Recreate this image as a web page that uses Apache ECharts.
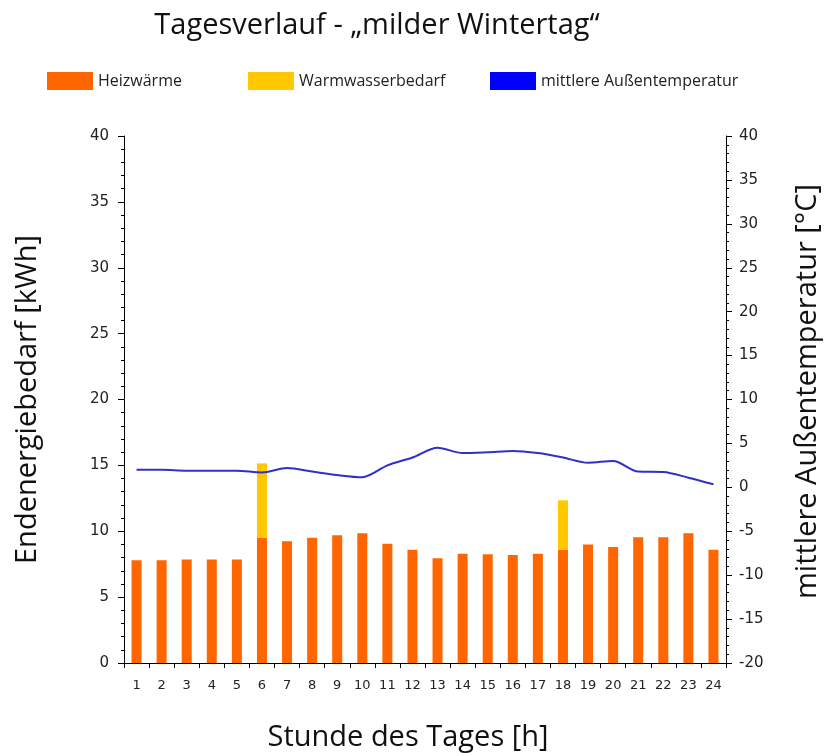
<!DOCTYPE html>
<html>
<head>
<meta charset="utf-8">
<script src="https://cdn.jsdelivr.net/npm/echarts@6/dist/echarts.min.js"></script>
<style>
  html, body { margin: 0; padding: 0; background: #fff; }
  #chart { width: 826px; height: 756px; }
</style>
</head>
<body>
<div id="chart"></div>
<script>
// Stunden
var hours = ['1','2','3','4','5','6','7','8','9','10','11','12','13','14','15','16','17','18','19','20','21','22','23','24'];
// Heizwärme [kWh]
var heizwaerme = [7.8, 7.8, 7.85, 7.85, 7.85, 9.5, 9.25, 9.5, 9.7, 9.85, 9.05, 8.6, 7.95, 8.3, 8.25, 8.2, 8.3, 8.6, 9.0, 8.8, 9.55, 9.55, 9.85, 8.6];
// Warmwasserbedarf [kWh]
var warmwasser = ['-', '-', '-', '-', '-', 5.65, '-', '-', '-', '-', '-', '-', '-', '-', '-', '-', '-', 3.75, '-', '-', '-', '-', '-', '-'];
// mittlere Außentemperatur [°C]
var temperatur = [2.0, 2.0, 1.9, 1.9, 1.9, 1.7, 2.2, 1.8, 1.4, 1.15, 2.5, 3.4, 4.5, 3.9, 4.0, 4.15, 3.9, 3.4, 2.8, 3.0, 1.8, 1.75, 1.1, 0.35];

var chart = echarts.init(document.getElementById('chart'));

var legendText = { fontFamily: 'Open Sans', fontSize: 16, color: '#222' };
var tickFont = { fontFamily: 'DejaVu Sans', fontSize: 15, color: '#222' };
var nameFont = { fontFamily: 'Open Sans', fontSize: 29, color: '#111' };

var option = {
    animation: false,
    title: {
        text: 'Tagesverlauf - \u201Emilder Wintertag\u201C',
        left: 372,
        top: 6,
        textAlign: 'center',
        textStyle: { fontFamily: 'Open Sans', fontSize: 29, fontWeight: 'normal', color: '#111' }
    },
    // drei Legenden, damit die Abstände wie im Original liegen
    legend: [
        { data: [{ name: 'Heizwärme', icon: 'rect' }], left: 42, top: 67, itemWidth: 46, itemHeight: 18, itemGap: 8, textStyle: legendText, selectedMode: false },
        { data: [{ name: 'Warmwasserbedarf', icon: 'rect' }], left: 243, top: 67, itemWidth: 46, itemHeight: 18, textStyle: legendText, selectedMode: false },
        { data: [{ name: 'mittlere Außentemperatur', icon: 'rect', itemStyle: { color: '#0000ff' } }], left: 485, top: 67, itemWidth: 46, itemHeight: 18, textStyle: legendText, selectedMode: false }
    ],
    grid: { left: 124, right: 100, top: 136, bottom: 93, containLabel: false, outerBoundsMode: 'none' },
    xAxis: {
        type: 'category',
        data: hours,
        name: 'Stunde des Tages [h]',
        nameLocation: 'middle',
        nameGap: 60,
        nameTextStyle: Object.assign({ padding: [0, 34, 0, 0] }, nameFont),
        axisLine: { lineStyle: { color: '#000', width: 1 } },
        axisTick: { show: true, length: 5, lineStyle: { color: '#000' } },
        axisLabel: { fontFamily: 'DejaVu Sans', fontSize: 13, color: '#222', margin: 16, interval: 0 },
        splitLine: { show: false }
    },
    yAxis: [
        {
            type: 'value',
            min: 0, max: 40, interval: 5,
            name: 'Endenergiebedarf [kWh]',
            nameLocation: 'middle',
            nameRotate: 90,
            nameGap: 82,
            nameTextStyle: nameFont,
            axisLine: { show: true, lineStyle: { color: '#000', width: 1 } },
            axisTick: { show: true, length: 6, lineStyle: { color: '#000' } },
            minorTick: { show: true, splitNumber: 5, length: 3, lineStyle: { color: '#000' } },
            axisLabel: Object.assign({ margin: 15 }, tickFont),
            splitLine: { show: false }
        },
        {
            type: 'value',
            min: -20, max: 40, interval: 5,
            position: 'right',
            name: 'mittlere Außentemperatur [°C]',
            nameLocation: 'middle',
            nameRotate: 90,
            nameGap: 67,
            nameTextStyle: Object.assign({ padding: [0, 0, 0, 16] }, nameFont),
            axisLine: { show: true, lineStyle: { color: '#000', width: 1 } },
            axisTick: { show: true, length: 6, lineStyle: { color: '#000' } },
            minorTick: { show: true, splitNumber: 5, length: 3, lineStyle: { color: '#000' } },
            axisLabel: Object.assign({ margin: 13 }, tickFont),
            splitLine: { show: false }
        }
    ],
    series: [
        {
            name: 'Heizwärme',
            type: 'bar',
            stack: 'energie',
            barWidth: 10,
            itemStyle: { color: '#ff6600' },
            data: heizwaerme
        },
        {
            name: 'Warmwasserbedarf',
            type: 'bar',
            stack: 'energie',
            barWidth: 10,
            itemStyle: { color: '#ffc800' },
            data: warmwasser
        },
        {
            name: 'mittlere Außentemperatur',
            type: 'line',
            yAxisIndex: 1,
            smooth: 0.3,
            symbol: 'none',
            lineStyle: { color: '#3030c8', width: 2 },
            itemStyle: { color: '#0000ff' },
            data: temperatur
        }
    ]
};

chart.setOption(option);
</script>
</body>
</html>
